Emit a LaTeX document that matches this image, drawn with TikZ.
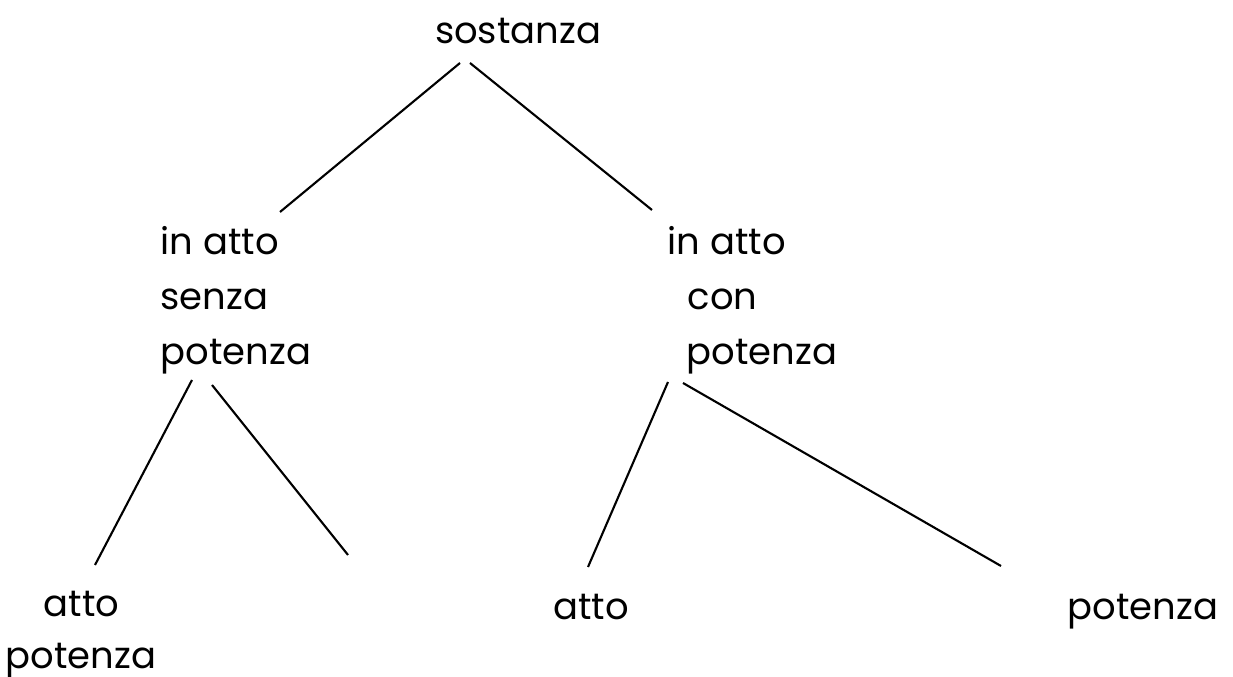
\documentclass[tikz,border=0pt]{standalone}
\usepackage{fontspec}
\setmainfont{Poppins}
\begin{document}
\begin{tikzpicture}[x=0.01cm,y=-0.01cm,
  lbl/.style={inner sep=0pt,font=\fontsize{10.5}{15.6}\selectfont},
  edge/.style={line width=0.6pt}]
\useasboundingbox (0,0) rectangle (1233,677);
\node[lbl,anchor=base] (sost) at (518,44) {sostanza};
\node[lbl,align=left,anchor=west] (left) at (160,300) {in atto\\senza\\potenza};
\node[lbl,align=left,anchor=west] (right) at (667,300) {in atto\\\hspace*{0.2cm}con\\\hspace*{0.19cm}potenza};
\node[lbl,align=left,anchor=west,font=\fontsize{10.5}{14.8}\selectfont] (ll) at (5,635) {\hspace*{0.38cm}atto\\potenza};
\node[lbl,anchor=base] (m) at (591,620) {atto};
\node[lbl,anchor=base] (r) at (1143,620) {potenza};
\coordinate (c1) at (460,63); \coordinate (c2) at (280,212);
\coordinate (c3) at (470,63); \coordinate (c4) at (652,210);
\coordinate (c5) at (192,380); \coordinate (c6) at (95,565);
\coordinate (c7) at (212,385); \coordinate (c8) at (348,555);
\coordinate (c9) at (668,382); \coordinate (c10) at (588,567);
\coordinate (c11) at (683,383); \coordinate (c12) at (1001,566);
\draw[edge] (c1) -- (c2);
\draw[edge] (c3) -- (c4);
\draw[edge] (c5) -- (c6);
\draw[edge] (c7) -- (c8);
\draw[edge] (c9) -- (c10);
\draw[edge] (c11) -- (c12);
\end{tikzpicture}
\end{document}
